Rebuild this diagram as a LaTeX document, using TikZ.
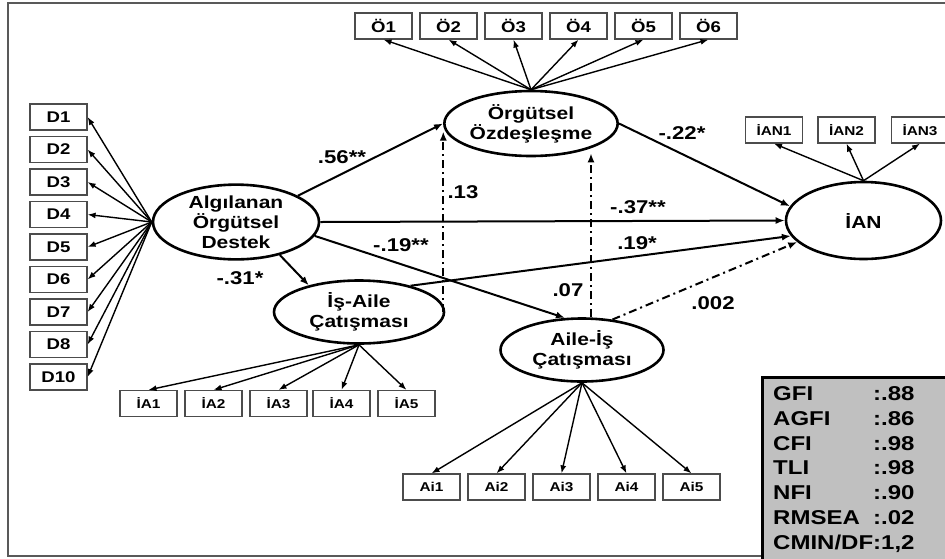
\documentclass[tikz,border=0pt]{standalone}
\usepackage{fontspec}
\setmainfont{Liberation Sans}[FakeStretch=1.2]
\usetikzlibrary{shapes.geometric,arrows.meta}
\definecolor{fitgray}{HTML}{C0C0C0}
\tikzset{
  obs/.style={draw=black!70, line width=1.2pt, minimum width=57pt, minimum height=26pt, inner sep=0pt, font=\fontsize{15.5}{15.5}\selectfont\bfseries},
  smallobs/.style={obs, font=\fontsize{12.8}{13}\selectfont\bfseries},
  lat/.style={draw, ellipse, line width=2.6pt, inner sep=0pt, align=center, font=\fontsize{17.5}{20}\selectfont\bfseries},
  load/.style={line width=1.4pt, -{Latex[length=8pt,width=6pt]}},
  reg/.style={line width=2pt, -{Latex[length=9pt,width=7pt]}},
  dashreg/.style={reg, dash pattern=on 8pt off 4pt on 2pt off 4pt},
  coef/.style={inner sep=0pt, font=\fontsize{18.5}{18.5}\selectfont\bfseries},
}
\begin{document}
\begin{tikzpicture}[x=1pt, y=-1pt]
    \useasboundingbox (0,0) rectangle (945,558);
    \draw [black!65, line width=1.5pt] (946,3) -- (8,3) -- (8,556) -- (946,556);
    % latent variables
    \node [lat, minimum width=166pt, minimum height=69pt] (alg) at (236,222) {Algılanan\\Örgütsel\\Destek};
    \node [lat, minimum width=170pt, minimum height=65pt] (org) at (531,123.5) {Örgütsel\\Özdeşleşme};
    \node [lat, minimum width=155pt, minimum height=77pt] (ian) at (863.5,220.5) {İAN};
    \node [lat, minimum width=170pt, minimum height=63pt] (isaile) at (359,312) {İş-Aile\\Çatışması};
    \node [lat, minimum width=163pt, minimum height=63pt] (aile) at (582,350) {Aile-İş\\Çatışması};
    % indicators
    \node [obs] (d1) at (58.5,117) {D1};
    \node [obs] (d2) at (58.5,149.5) {D2};
    \node [obs] (d3) at (58.5,182) {D3};
    \node [obs] (d4) at (58.5,214.5) {D4};
    \node [obs] (d5) at (58.5,247) {D5};
    \node [obs] (d6) at (58.5,279.5) {D6};
    \node [obs] (d7) at (58.5,312) {D7};
    \node [obs] (d8) at (58.5,344.5) {D8};
    \node [obs] (d10) at (58.5,377) {D10};
    \node [obs] (o1) at (383.5,26) {Ö1};
    \node [obs] (o2) at (448.5,26) {Ö2};
    \node [obs] (o3) at (513.5,26) {Ö3};
    \node [obs] (o4) at (578.5,26) {Ö4};
    \node [obs] (o5) at (643.5,26) {Ö5};
    \node [obs] (o6) at (708.5,26) {Ö6};
    \node [smallobs] (ian1) at (774,130) {İAN1};
    \node [smallobs] (ian2) at (846.5,130) {İAN2};
    \node [smallobs] (ian3) at (920,130) {İAN3};
    \node [smallobs] (ia1) at (148.5,403.5) {İA1};
    \node [smallobs] (ia2) at (213.5,403.5) {İA2};
    \node [smallobs] (ia3) at (278.5,403.5) {İA3};
    \node [smallobs] (ia4) at (341.5,403.5) {İA4};
    \node [smallobs] (ia5) at (406.5,403.5) {İA5};
    \node [smallobs] (ai1) at (431.5,487) {Ai1};
    \node [smallobs] (ai2) at (496.5,487) {Ai2};
    \node [smallobs] (ai3) at (561.5,487) {Ai3};
    \node [smallobs] (ai4) at (626.5,487) {Ai4};
    \node [smallobs] (ai5) at (691.5,487) {Ai5};
    \draw [load] (alg.west) -- (d1.east);
    \draw [load] (alg.west) -- (d2.east);
    \draw [load] (alg.west) -- (d3.east);
    \draw [load] (alg.west) -- (d4.east);
    \draw [load] (alg.west) -- (d5.east);
    \draw [load] (alg.west) -- (d6.east);
    \draw [load] (alg.west) -- (d7.east);
    \draw [load] (alg.west) -- (d8.east);
    \draw [load] (alg.west) -- (d10.east);
    \draw [load] (org.north) -- (o1.south);
    \draw [load] (org.north) -- (o2.south);
    \draw [load] (org.north) -- (o3.south);
    \draw [load] (org.north) -- (o4.south);
    \draw [load] (org.north) -- (o5.south);
    \draw [load] (org.north) -- (o6.south);
    \draw [load] (ian.north) -- (ian1.south);
    \draw [load] (ian.north) -- (ian2.south);
    \draw [load] (ian.north) -- (ian3.south);
    \draw [load] (isaile.south) -- (ia1.north);
    \draw [load] (isaile.south) -- (ia2.north);
    \draw [load] (isaile.south) -- (ia3.north);
    \draw [load] (isaile.south) -- (ia4.north);
    \draw [load] (isaile.south) -- (ia5.north);
    \draw [load] (aile.south) -- (ai1.north);
    \draw [load] (aile.south) -- (ai2.north);
    \draw [load] (aile.south) -- (ai3.north);
    \draw [load] (aile.south) -- (ai4.north);
    \draw [load] (aile.south) -- (ai5.north);
    % structural paths
    \draw [reg] (alg.23) -- (org.west);
    \draw [reg] (alg.east) -- (ian.west);
    \draw [reg] (alg.-37) -- (isaile.152);
    \draw [reg] (alg.-10) -- (aile.118);
    \draw [reg] (org.east) -- (ian.169);
    \draw [reg] (isaile.27) -- (ian.192);
    \draw [dashreg] (aile.45) -- (ian.198);
    \draw [dashreg] ([xshift=-2pt]isaile.east) -- ([xshift=-2pt, yshift=-8pt]isaile.east |- org.west);
    \draw [dashreg] ([xshift=9pt]aile.north) -- ([xshift=9pt, yshift=4pt]aile.north |- org.south);
    \node [coef] (c1) at (342,157) {.56**};
    \node [coef] (c2) at (463,192) {.13};
    \node [coef] (c3) at (682,133) {-.22*};
    \node [coef] (c4) at (638,207) {-.37**};
    \node [coef] (c5) at (637,243) {.19*};
    \node [coef] (c6) at (401,245) {-.19**};
    \node [coef] (c7) at (240,278) {-.31*};
    \node [coef] (c8) at (568,290) {.07};
    \node [coef] (c9) at (713,303) {.002};
    % fit indices
    \node [draw, fill=fitgray, line width=2.5pt, anchor=north west, minimum width=200pt, minimum height=200pt] (fitbox) at (761,376) {};
    \node [anchor=north west, inner sep=0pt, font=\fontsize{20}{24.8}\selectfont\bfseries] (fit) at (773,383)
      {\begin{tabular}{@{}l@{}l@{}}
        GFI & :.88\\
        AGFI & :.86\\
        CFI & :.98\\
        TLI & :.98\\
        NFI & :.90\\
        RMSEA & :.02\\
        CMIN/DF & :1,2
      \end{tabular}};
\end{tikzpicture}
\end{document}
